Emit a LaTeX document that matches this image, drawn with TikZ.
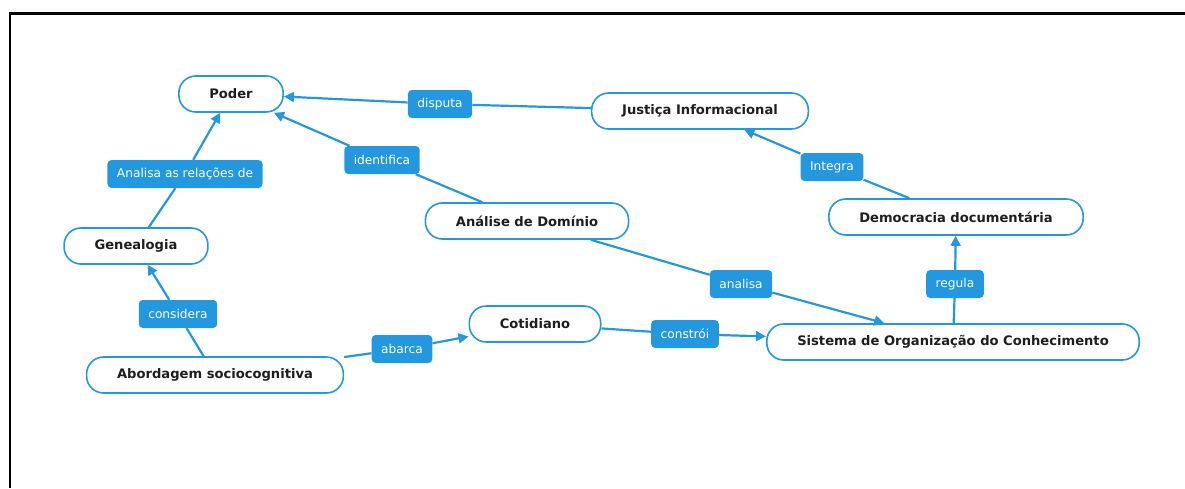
\documentclass[tikz,border=0pt]{standalone}
\usepackage{fontspec}
\setmainfont{DejaVu Sans}
\usetikzlibrary{arrows.meta}
\definecolor{mapblue}{RGB}{35,152,222}
\definecolor{mapink}{RGB}{30,30,30}
\tikzset{
 concept/.style={draw=mapblue, line width=1.6pt, fill=white, rounded corners=17pt, minimum height=36pt, inner xsep=30.5pt, text=mapink, font=\fontsize{13.1}{15}\selectfont\bfseries},
 linkname/.style={fill=mapblue, rounded corners=4pt, minimum height=28pt, inner xsep=9.5pt, text=white, font=\fontsize{12.2}{14}\selectfont},
 link/.style={draw=mapblue, line width=2.2pt, >={Triangle[length=10pt,width=10pt]}}
}

\begin{document}
\begin{tikzpicture}[x=1pt, y=-1pt]
\useasboundingbox (0,0) rectangle (1185,488);
\draw[black, line width=2.5pt] (10,488) -- (10,13.5) -- (1185,13.5);
% concepts
\node[concept] (poder) at (231,94) {Poder};
\node[concept] (justica) at (700,111) {Justiça Informacional};
\node[concept] (genealogia) at (136,246) {Genealogia};
\node[concept] (analise) at (527,221) {Análise de Domínio};
\node[concept] (democracia) at (956,217) {Democracia documentária};
\node[concept] (cotidiano) at (535,324) {Cotidiano};
\node[concept] (abordagem) at (215,375) {Abordagem sociocognitiva};
\node[concept] (sistema) at (953,342) {Sistema de Organização do Conhecimento};
% link phrases
\node[linkname] (disputa) at (440,104) {disputa};
\node[linkname] (identifica) at (382,160) {identifica};
\node[linkname] (analisarel) at (185,174) {Analisa as relações de};
\node[linkname] (integra) at (832,167) {Integra};
\node[linkname] (considera) at (178,314) {considera};
\node[linkname] (abarca) at (402,349) {abarca};
\node[linkname] (analisa) at (741,284) {analisa};
\node[linkname] (constroi) at (685,334) {constrói};
\node[linkname] (regula) at (955,284) {regula};
\foreach \a/\b/\c in {justica/disputa/poder, analise/identifica/poder, genealogia/analisarel/poder,
  abordagem/considera/genealogia, abordagem/abarca/cotidiano, cotidiano/constroi/sistema,
  analise/analisa/sistema, sistema/regula/democracia, democracia/integra/justica} {
 \draw[link] (\a) -- (\b);
 \draw[link,->] (\b) -- (\c);
}
\end{tikzpicture}
\end{document}
